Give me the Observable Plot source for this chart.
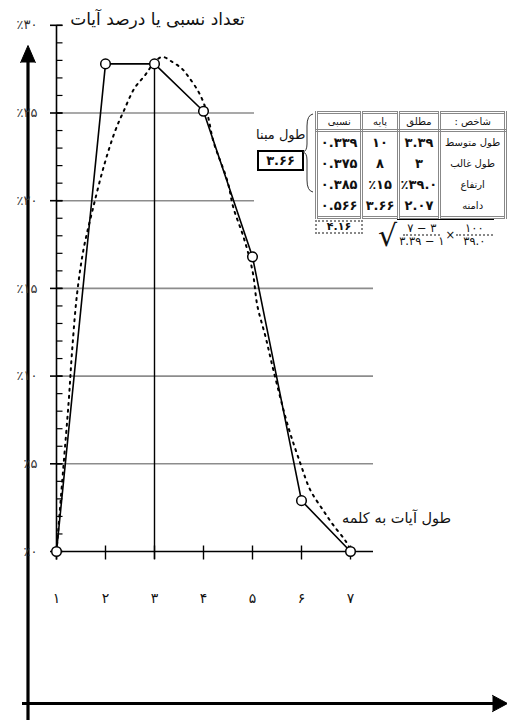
<!DOCTYPE html>
<html><head><meta charset="utf-8">
<script src="https://cdn.jsdelivr.net/npm/d3@7"></script>
<script src="https://cdn.jsdelivr.net/npm/@observablehq/plot@0.6"></script>
<style>
html,body{margin:0;padding:0;background:#fff;overflow:hidden;}
#wrap{position:relative;width:507px;height:720px;overflow:hidden;font-family:"DejaVu Sans",sans-serif;color:#111;}
#wrap > svg{display:block;}
.ov{position:absolute;}
#tbl{position:absolute;left:315px;top:111px;border-collapse:collapse;border:3px double #888;table-layout:fixed;}
#tbl th,#tbl td{border-left:3px double #888;border-right:3px double #888;padding:0;text-align:center;white-space:nowrap;overflow:hidden;}
#tbl th{font-weight:normal;font-size:10px;height:15px;border-bottom:3px double #888;}
#tbl td{height:21px;font-size:13px;font-weight:bold;direction:ltr;}
#tbl td.lbl{font-weight:normal;font-size:10px;direction:rtl;}
#base{left:256px;top:127px;font-size:13px;direction:rtl;}
#baseBox{left:257px;top:150px;width:43px;height:17px;border:2px solid #000;font-size:13px;font-weight:bold;text-align:center;line-height:17px;}
#sumBox{left:315px;top:220px;width:44px;height:10px;border:2px dotted #888;font-size:11px;font-weight:bold;text-align:center;line-height:10px;}
#formula{left:378px;top:219px;font-size:11.5px;display:flex;align-items:flex-end;direction:ltr;}
.frac{display:inline-flex;flex-direction:column;align-items:center;margin:0 1px;}
.frac .n{border-bottom:2px dotted #888;padding:0 4px;line-height:11px;}
.frac.w .n{padding:0 9px;}
.frac .d{line-height:11px;}
.rad{border-top:1px solid #000;display:flex;align-items:center;padding:3px 0 0 1px;margin-bottom:4px;}
.sq{font-size:30px;line-height:30px;}
</style></head><body><div id="wrap"></div>
<script>
// ---- data ----
const lengths = [1, 2, 3, 4, 5, 6, 7];
const lengthLabels = ["۱", "۲", "۳", "۴", "۵", "۶", "۷"];
const percents = [0, 27.8, 27.8, 25.1, 16.8, 2.9, 0];
const yTicks = [0, 5, 10, 15, 20, 25, 30];
const yTickLabels = ["٪۰", "٪۵", "٪۱۰", "٪۱۵", "٪۲۰", "٪۲۵", "٪۳۰"];
const gridValues = [5, 10, 15, 20, 25];
const modeLength = 3;
// fitted (dotted) curve
const fitX = [1, 1.14, 1.25, 1.32, 1.42, 1.55, 1.73, 1.97, 2.2, 2.37, 2.59, 2.82, 3.0, 3.16, 3.37, 3.57, 3.71, 3.88, 4.0, 4.1, 4.2, 4.49, 4.61, 4.82, 5.0, 5.1, 5.27, 5.43, 5.73, 5.98, 6.18, 6.43, 6.65, 6.9, 7];
const fitY = [0, 4.8, 8.6, 11.5, 14.7, 17.2, 19.4, 22.0, 24.0, 25.1, 26.4, 27.2, 27.9, 28.2, 27.9, 27.5, 27.0, 26.3, 25.6, 24.7, 23.4, 21.1, 19.6, 17.9, 16.0, 14.0, 12.2, 10.3, 7.1, 5.0, 3.5, 2.4, 1.5, 0.6, 0.1];
// table
const colHeaders = ["نسبی", "پایه", "مطلق", "شاخص :"];
const rowLabels = ["طول متوسط", "طول غالب", "ارتفاع", "دامنه"];
const relValues = ["۰.۳۳۹", "۰.۳۷۵", "۰.۳۸۵", "۰.۵۶۶"];
const baseValues = ["۱۰", "۸", "٪۱۵", "۳.۶۶"];
const absValues = ["۳.۳۹", "۳", "٪۳۹.۰", "۲.۰۷"];
const baseLength = "۳.۶۶";
const relSum = "۴.۱۶";
const titleText = "تعداد نسبی یا درصد آیات";
const xTitleText = "طول آیات به کلمه";
const baseTitle = "طول مبنا";

// ---- layout helpers (pixel frame -> data frame) ----
const pxX = px => 1 + (px - 56) / 49;
const pxY = py => (551 - py) / (526.2 / 30);
const F = "DejaVu Sans";
const fit = fitX.map((x, i) => ({x, y: fitY[i]}));
const pts = lengths.map((x, i) => ({x, y: percents[i], label: lengthLabels[i]}));
const yt = yTicks.map((y, i) => ({y, label: yTickLabels[i]}));
const axX = pxX(27.5), axY = pxY(703);
const upTri = [{x: axX - 0.15, y: pxY(62)}, {x: axX, y: pxY(45)}, {x: axX + 0.15, y: pxY(62)}];
const rightTri = [{x: pxX(492), y: axY + 0.46}, {x: pxX(507), y: axY}, {x: pxX(492), y: axY - 0.46}];

const chart = Plot.plot({
  width: 507, height: 720,
  marginTop: 0, marginRight: 0, marginBottom: 0, marginLeft: 0,
  x: {domain: [pxX(0), pxX(507)], axis: null},
  y: {domain: [pxY(720), pxY(0)], axis: null},
  style: {fontFamily: F},
  marks: [
    Plot.ruleY(gridValues, {y: d => d, x1: 1, x2: d => d >= 20 ? pxX(254) : pxX(373), stroke: "#8c8c8c", strokeWidth: 1.6}),
    Plot.ruleY([0], {x1: 1, x2: pxX(373), stroke: "#000", strokeWidth: 1.6}),
    Plot.link(lengths, {x1: d => d, x2: d => d, y1: pxY(559), y2: pxY(545), stroke: "#000", strokeWidth: 1.4}),
    Plot.link([1], {x1: d => d, x2: d => d, y1: pxY(559), y2: 30, stroke: "#000", strokeWidth: 1.6}),
    Plot.link(yTicks, {y1: d => d, y2: d => d, x1: pxX(49.5), x2: pxX(62), stroke: "#000", strokeWidth: 1.6}),
    Plot.link(d3.range(0, 31), {y1: d => d, y2: d => d, x1: 1, x2: pxX(62), stroke: "#000", strokeWidth: 1.2}),
    Plot.ruleX([modeLength], {y1: pxY(559), y2: percents[modeLength - 1], stroke: "#000", strokeWidth: 1.4}),
    Plot.line(fit, {x: "x", y: "y", curve: "catmull-rom", stroke: "#000", strokeWidth: 2, strokeDasharray: "2,5"}),
    Plot.line(pts, {x: "x", y: "y", stroke: "#000", strokeWidth: 1.6}),
    Plot.dot(pts, {x: "x", y: "y", r: 4.8, fill: "#fff", stroke: "#000", strokeWidth: 1.5}),
    // outer decorative axes with arrows
    Plot.ruleX([axX], {y1: pxY(720), y2: pxY(60), stroke: "#000", strokeWidth: 3.2}),
    Plot.ruleY([axY], {x1: pxX(22), x2: pxX(494), stroke: "#000", strokeWidth: 3.2}),
    Plot.line(upTri, {x: "x", y: "y", fill: "#000", stroke: "#000", strokeWidth: 1}),
    Plot.line(rightTri, {x: "x", y: "y", fill: "#000", stroke: "#000", strokeWidth: 1}),
    // texts
    Plot.text(yt, {x: pxX(37), y: "y", text: "label", textAnchor: "end", fontSize: 13, fill: "#333", fontFamily: F}),
    Plot.text(pts, {x: "x", y: pxY(598), text: "label", fontSize: 14, fill: "#111", fontFamily: F}),
    Plot.text([titleText], {x: pxX(157), y: pxY(19), text: d => d, fontSize: 17, fill: "#111", fontFamily: F}),
    Plot.text([xTitleText], {x: pxX(396), y: pxY(518), text: d => d, fontSize: 14.5, fill: "#111", fontFamily: F})
  ]
});
const wrap = document.getElementById("wrap");
wrap.appendChild(chart);

// table overlay
const tbl = document.createElement("table");
tbl.id = "tbl";
const widths = [50, 40, 43, 72];
let html = "<colgroup>" + widths.map(w => `<col style="width:${w}px">`).join("") + "</colgroup>";
html += "<tr>" + colHeaders.map(h => `<th dir="rtl">${h}</th>`).join("") + "</tr>";
rowLabels.forEach((lab, i) => {
  html += `<tr><td>${relValues[i]}</td><td>${baseValues[i]}</td><td>${absValues[i]}</td><td class="lbl">${lab}</td></tr>`;
});
tbl.innerHTML = html;
wrap.appendChild(tbl);
function ov(id, text) {
  const d = document.createElement("div");
  d.className = "ov"; d.id = id; d.textContent = text;
  wrap.appendChild(d);
  return d;
}
ov("base", baseTitle);
ov("baseBox", baseLength);
ov("sumBox", relSum);
const fm = document.createElement("div");
fm.className = "ov"; fm.id = "formula";
fm.innerHTML = `<span class="sq">√</span><span class="rad"><span class="frac"><span class="n">۷ − ۳</span><span class="d">۳.۳۹ − ۱</span></span>×<span class="frac w"><span class="n">۱۰۰</span><span class="d">۳۹.۰</span></span></span>`;
wrap.appendChild(fm);
// brace
const ns = "http://www.w3.org/2000/svg";
const bs = document.createElementNS(ns, "svg");
bs.setAttribute("width", 20); bs.setAttribute("height", 90);
bs.setAttribute("viewBox", "298 110 20 90");
bs.style.position = "absolute"; bs.style.left = "298px"; bs.style.top = "110px";
const p = document.createElementNS(ns, "path");
p.setAttribute("d", "M313,114 Q307,115 307,126 L307,144 Q307,151 303,152 Q307,153 307,160 L307,180 Q307,191 313,192");
p.setAttribute("fill", "none"); p.setAttribute("stroke", "#333"); p.setAttribute("stroke-width", "1");
bs.appendChild(p);
wrap.appendChild(bs);
</script>
</body></html>
